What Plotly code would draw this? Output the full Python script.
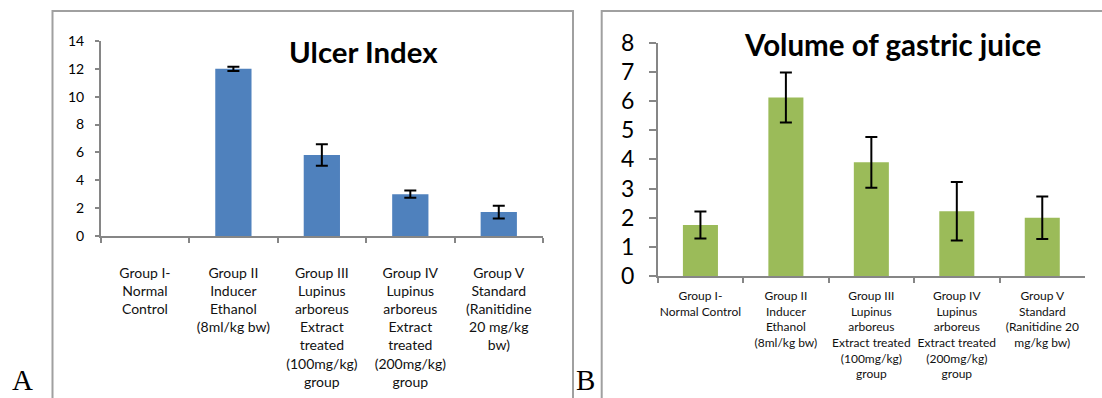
import plotly.graph_objects as go

W, H = 1102, 398

categories = ["Group I", "Group II", "Group III", "Group IV", "Group V"]

labels_a = [
    "Group I-<br>Normal<br>Control",
    "Group II<br>Inducer<br>Ethanol<br>(8ml/kg bw)",
    "Group III<br>Lupinus<br>arboreus<br>Extract<br>treated<br>(100mg/kg)<br>group",
    "Group IV<br>Lupinus<br>arboreus<br>Extract<br>treated<br>(200mg/kg)<br>group",
    "Group V<br>Standard<br>(Ranitidine<br>20 mg/kg<br>bw)",
]
labels_b = [
    "Group I-<br>Normal Control",
    "Group II<br>Inducer<br>Ethanol<br>(8ml/kg bw)",
    "Group III<br>Lupinus<br>arboreus<br>Extract treated<br>(100mg/kg)<br>group",
    "Group IV<br>Lupinus<br>arboreus<br>Extract treated<br>(200mg/kg)<br>group",
    "Group V<br>Standard<br>(Ranitidine 20<br>mg/kg bw)",
]

ulcer_index = [0, 12.0, 5.82, 3.0, 1.72]
# Group I has no error bar drawn ("NaN" makes plotly skip it)
ulcer_err = ["NaN", 0.15, 0.77, 0.26, 0.46]

gastric_volume = [1.75, 6.12, 3.9, 2.22, 2.0]
gastric_err = [0.46, 0.86, 0.87, 1.0, 0.73]

title_a = "Ulcer Index"
title_b = "Volume of gastric juice"

FONT = "Lato"
AXIS_COL = "#868686"


def px(x):
    return x / W


def py(y):
    return 1 - y / H


fig = go.Figure()

fig.add_trace(go.Bar(
    x=categories, y=ulcer_index, xaxis="x", yaxis="y",
    marker=dict(color="#4F81BD", line=dict(width=0)), width=0.41,
    error_y=dict(type="data", array=ulcer_err, visible=True,
                 color="black", thickness=2, width=6),
    showlegend=False,
))
fig.add_trace(go.Bar(
    x=categories, y=gastric_volume, xaxis="x2", yaxis="y2",
    marker=dict(color="#9BBB59", line=dict(width=0)), width=0.41,
    error_y=dict(type="data", array=gastric_err, visible=True,
                 color="black", thickness=2, width=6),
    showlegend=False,
))

xcommon = dict(
    type="category", showline=True, linecolor=AXIS_COL, linewidth=1.5,
    ticks="outside", tickson="boundaries", ticklen=5, tickcolor=AXIS_COL,
    tickwidth=1.5, showgrid=False, zeroline=False, fixedrange=True,
    tickangle=0, automargin=False,
)
ycommon = dict(
    showline=True, linecolor=AXIS_COL, linewidth=1.5, ticks="outside",
    tickcolor=AXIS_COL, tickwidth=1.5, showgrid=False, zeroline=False,
    fixedrange=True, automargin=False,
)

fig.update_layout(
    width=W, height=H, margin=dict(l=0, r=0, t=0, b=0, pad=0),
    paper_bgcolor="white", plot_bgcolor="white",
    font=dict(family=FONT, color="black"),
    bargap=0.6,
    xaxis=dict(**xcommon, domain=[px(100.7), px(543)], anchor="y",
               tickmode="array", tickvals=categories, ticktext=labels_a,
               tickfont=dict(size=14, family=FONT, color="#111"),
               ticklabelstandoff=23),
    yaxis=dict(**ycommon, domain=[py(236), py(41)], anchor="x",
               range=[0, 14], dtick=2, ticklen=4,
               tickfont=dict(size=14, family=FONT),
               ticklabelstandoff=8),
    xaxis2=dict(**xcommon, domain=[px(657.7), px(1085)], anchor="y2",
                tickmode="array", tickvals=categories, ticktext=labels_b,
                tickfont=dict(size=12, family=FONT, color="#111"),
                ticklabelstandoff=8),
    yaxis2=dict(**ycommon, domain=[py(276), py(42.7)], anchor="x2",
                range=[0, 8], dtick=1, ticklen=7,
                tickfont=dict(size=23, family=FONT),
                ticklabelstandoff=10),
)

# panel frames
fig.add_shape(type="rect", xref="paper", yref="paper",
              x0=px(52.5), x1=px(573), y0=py(420), y1=py(11),
              line=dict(color="#A0A0A0", width=2), fillcolor="rgba(0,0,0,0)",
              layer="below")
fig.add_shape(type="rect", xref="paper", yref="paper",
              x0=px(601.7), x1=px(1130), y0=py(420), y1=py(11),
              line=dict(color="#A0A0A0", width=2), fillcolor="rgba(0,0,0,0)",
              layer="below")

# titles
fig.add_annotation(text="<b>" + title_a + "</b>", xref="paper", yref="paper",
                   x=px(363.5), y=py(51.7), xanchor="center", yanchor="middle",
                   showarrow=False, font=dict(size=29.4, family=FONT, color="black"))
fig.add_annotation(text="<b>" + title_b + "</b>", xref="paper", yref="paper",
                   x=px(892), y=py(45), xanchor="center", yanchor="middle",
                   showarrow=False, font=dict(size=29.5, family=FONT, color="black"))

# panel letters
fig.add_annotation(text="A", xref="paper", yref="paper", x=px(22), y=py(398),
                   xanchor="center", yanchor="bottom", showarrow=False,
                   font=dict(size=29, family="Liberation Serif", color="black"))
fig.add_annotation(text="B", xref="paper", yref="paper", x=px(585.5), y=py(398),
                   xanchor="center", yanchor="bottom", showarrow=False,
                   font=dict(size=29, family="Liberation Serif", color="black"))

fig.write_html("out.html",
               config={"displayModeBar": False},
               post_script="document.body.style.margin='0';document.body.style.padding='0';")
